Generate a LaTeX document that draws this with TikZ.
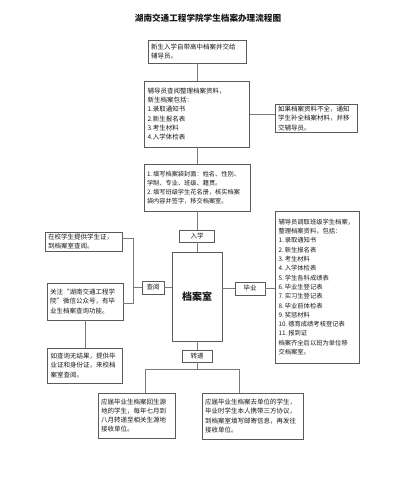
\documentclass[tikz,border=0pt]{standalone}
\usepackage{fontspec}
\newfontfamily\cjk{Noto Sans CJK SC}
\definecolor{boxline}{HTML}{5A5A5A}
\definecolor{connline}{HTML}{7A7A7A}
\definecolor{txt}{HTML}{1A1A1A}
\begin{document}
\begin{tikzpicture}[x=1pt,y=-1pt,
  box/.style={draw=boxline, line width=0.8pt, fill=white, text=txt, align=left,
    inner xsep=3pt, inner ysep=1.5pt, font=\cjk\fontsize{6.5}{9.2}\selectfont},
  tag/.style={draw=boxline, line width=0.8pt, fill=white, text=txt, align=center,
    inner sep=1pt, font=\cjk\fontsize{6.5}{8}\selectfont},
  conn/.style={draw=connline, line width=0.8pt}
]
\useasboundingbox[fill=white] (0,0) rectangle (412,478);

\node[text=txt, font=\cjk\bfseries\fontsize{8.6}{10}\selectfont] (title) at (208,18) {湖南交通工程学院学生档案办理流程图};

\node[box, minimum width=98pt, minimum height=23pt, text width=92pt] (b1) at (197,51.5)
  {新生入学自带高中档案并交给\\辅导员。};
\node[box, minimum width=105pt, minimum height=66pt, text width=99pt] (b2) at (197,114)
  {辅导员查阅整理档案资料，\\新生档案包括：\\1.录取通知书\\2.新生报名表\\3.考生材料\\4.入学体检表\\[6pt]};
\node[box, minimum width=82pt, minimum height=27pt, text width=76pt] (b3) at (316,118.5)
  {如果档案资料不全，通知\\学生补全档案材料，并移\\交辅导员。};
\node[box, minimum width=106pt, minimum height=47pt, text width=100pt,
  font=\cjk\fontsize{6.2}{9}\selectfont] (b4) at (197,187.5)
  {1.\,填写档案袋封面：姓名、性别、\\学制、专业、班级、籍贯。\\2.\,填写班级学生花名册，核实档案\\袋内容并签字，移交档案室。};

\node[tag, minimum width=35pt, minimum height=12pt] (ruxue) at (197,236) {入学};
\node[box, align=center, minimum width=50pt, minimum height=89pt,
  font=\cjk\bfseries\fontsize{10}{12}\selectfont] (dang) at (197,296.5) {档案室};
\node[tag, minimum width=22pt, minimum height=13pt] (cha) at (153,287.5) {查阅};
\node[tag, minimum width=30pt, minimum height=13pt] (bi) at (250,288.5) {毕业};
\node[tag, minimum width=30pt, minimum height=12pt] (zhuan) at (197,356) {转递};

\node[box, minimum width=77pt, minimum height=19pt, text width=71pt] (zai) at (83.5,241.5)
  {在校学生提供学生证，\\到档案室查阅。};
\node[box, minimum width=76pt, minimum height=37pt, text width=70pt] (guan) at (85,301.5)
  {关注“湖南交通工程学\\院”微信公众号，有毕\\业生档案查询功能。};
\node[box, minimum width=75pt, minimum height=35pt, text width=69pt] (ru) at (85,365.5)
  {如查询无结果，提供毕\\业证和身份证，来校档\\案室查阅。};

\node[box, minimum width=83pt, minimum height=152pt, text width=78pt,
  font=\cjk\fontsize{6.3}{9.3}\selectfont] (R) at (317.5,287)
  {辅导员调取班级学生档案，\\整理档案资料，包括：\\1.\,录取通知书\\2.\,新生报名表\\3.\,考生材料\\4.\,入学体检表\\5.\,学生各科成绩表\\6.\,毕业生登记表\\7.\,实习生登记表\\8.\,毕业前体检表\\9.\,奖惩材料\\10.\,德育成绩考核登记表\\11.\,报到证\\档案齐全后以班为单位移\\交档案室。};

\node[box, minimum width=77pt, minimum height=45pt, text width=71pt] (BL) at (136.5,415.5)
  {应届毕业生档案回生源\\地的学生，每年七月到\\八月转递至相关生源地\\接收单位。};
\node[box, minimum width=101pt, minimum height=46pt, text width=95pt] (BR) at (252.5,416)
  {应届毕业生档案去单位的学生，\\毕业时学生本人携带三方协议，\\到档案室填写邮寄信息，再发往\\接收单位。};

\coordinate (k1) at (133,238);
\coordinate (k2) at (133,303);
\coordinate (jl) at (145,369);
\coordinate (jr) at (239,369);

\draw[conn] (b1.south) -- (b2.north);
\draw[conn] (b2.east) -- (b2.east -| b3.west);
\draw[conn] (b2.south) -- (b4.north);
\draw[conn] (b4.south) -- (ruxue.north);
\draw[conn] (ruxue.south) -- (dang.north);
\draw[conn] (dang.east |- bi.west) -- (bi.west);
\draw[conn] (bi.east) -- (bi.east -| R.west);
\draw[conn] (cha.east) -- (cha.east -| dang.west);
\draw[conn] (zai.east |- k1) -- (k1) -- (k2) -- (guan.east |- k2);
\draw[conn] (cha.west) -- (cha.west -| k1);
\draw[conn] (guan.south) -- (guan.south |- ru.north);
\draw[conn] (dang.south) -- (zhuan.north);
\draw[conn] (zhuan.south) -- (zhuan.south |- jl);
\draw[conn] (BL.north -| jl) -- (jl) -- (jr) -- (BR.north -| jr);
\end{tikzpicture}
\end{document}
